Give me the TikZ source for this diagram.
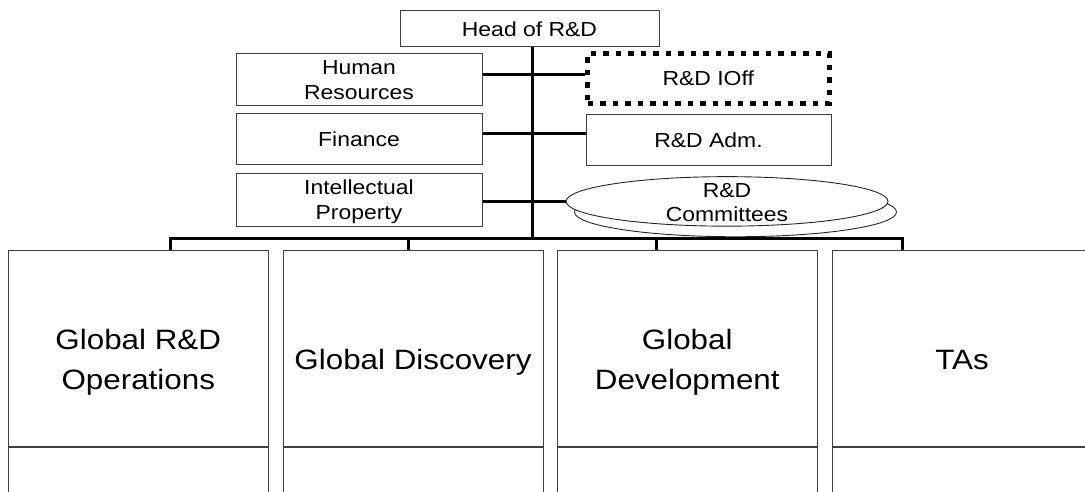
\documentclass[tikz,border=0pt]{standalone}
\usepackage{fontspec}
\newfontfamily\smf[FakeStretch=1.13]{Liberation Sans}
\newfontfamily\bgf[FakeStretch=1.12]{Liberation Sans}
\usetikzlibrary{shapes.geometric}
\newcommand\lst{\rule[-0.212em]{0pt}{1.117em}}
\newcommand\tst{\rule[-0.212em]{0pt}{\dimexpr1.117em+24pt\relax}}
\begin{document}
\begin{tikzpicture}[x=1pt,y=-1pt,
 box/.style={draw=black!75, line width=1pt, fill=white, inner sep=0pt, align=center},
 small/.style={font=\smf\fontsize{20.3}{24.3}\selectfont},
 big/.style={font=\bgf\fontsize{28}{40}\selectfont},
 conn/.style={line width=3pt, line cap=butt, line join=miter},
 dotbox/.style={draw=black, line width=5pt, dash pattern=on 5.5pt off 7pt, inner sep=0pt, align=center},
 oval/.style={ellipse, draw=black!85, line width=0.9pt, fill=white, inner sep=0pt, minimum width=322pt, minimum height=49.5pt},
]
\useasboundingbox (0,0) rectangle (1085,492);

% junction coordinates
\coordinate (bj) at (532,238);
\coordinate (hrj) at (532,75);
\coordinate (fij) at (532,134);
\coordinate (d1) at (170,238);
\coordinate (d2) at (408.5,238);
\coordinate (d3) at (656,238);
\coordinate (d4) at (902,238);

% top boxes
\node[box, small, minimum width=259pt, minimum height=36pt] (head) at (529.5,29) {\lst Head of R\&D};
\node[box, small, minimum width=246pt, minimum height=52pt] (hr) at (359,80) {\lst Human\\\lst Resources};
\node[box, small, minimum width=246pt, minimum height=51pt] (fin) at (359,139.5) {\lst Finance};
\node[box, small, minimum width=246pt, minimum height=52pt] (ip) at (359,200) {\lst Intellectual\\\lst Property};
\node[dotbox, small, minimum width=241.5pt, minimum height=50.5pt] (ioff) at (708.25,78.75) {\lst R\&D IOff};
\node[box, small, minimum width=245pt, minimum height=51pt] (adm) at (708.5,140.5) {\lst R\&D Adm.};

% committees
\node[oval] (comb) at (735.5,212) {};
\node[oval] (com) at (727,201.4) {};
\node[small, align=center, inner sep=0pt] (comt) at (727,202.5) {\lst R\&D\\\lst Committees};

% bottom boxes
\node[box, big, minimum width=260.5pt, minimum height=196pt] (g1) at (138.25,348) {\tst Global R\&D\\\lst Operations};
\node[box, big, minimum width=260pt, minimum height=196pt] (g2) at (413,348) {\tst Global Discovery};
\node[box, big, minimum width=259.5pt, minimum height=196pt] (g3) at (687.25,348) {\tst Global\\\lst Development};
\node[box, big, minimum width=260pt, minimum height=196pt] (g4) at (962,348) {\tst TAs};
\node[box, minimum width=260.5pt, minimum height=60pt, anchor=north] (h1) at (g1.south) {};
\node[box, minimum width=260pt, minimum height=60pt, anchor=north] (h2) at (g2.south) {};
\node[box, minimum width=259.5pt, minimum height=60pt, anchor=north] (h3) at (g3.south) {};
\node[box, minimum width=260pt, minimum height=60pt, anchor=north] (h4) at (g4.south) {};

% connectors
\draw[conn] (head.south -| bj) -- (bj);
\draw[conn] (hr.east |- hrj) -- (ioff.west |- hrj);
\draw[conn] (fin.east |- fij) -- (adm.west |- fij);
\draw[conn] (ip.east |- com.west) -- (com.west);
\draw[conn] (g1.north -| d1) -- (d1) -- (d4) -- (g4.north -| d4);
\draw[conn] (d2) -- (g2.north -| d2);
\draw[conn] (d3) -- (g3.north -| d3);
\end{tikzpicture}
\end{document}
